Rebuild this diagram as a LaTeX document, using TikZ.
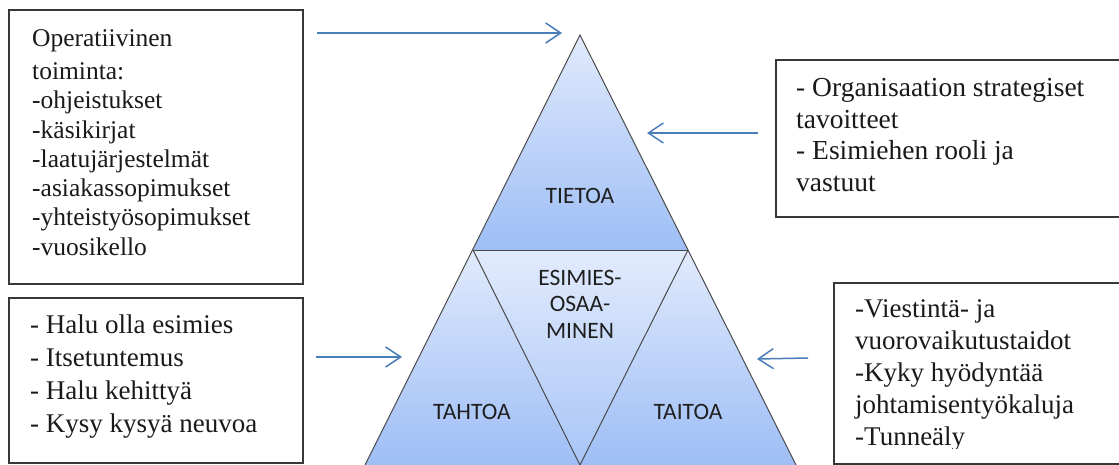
\documentclass[tikz,border=0pt]{standalone}
\usepackage{fontspec}
\setmainfont{Liberation Serif}
\newfontfamily\sansf{Carlito}
\usetikzlibrary{arrows.meta}
\definecolor{arrowblue}{HTML}{4A7EBB}
\definecolor{triLight}{HTML}{E0EAFC}
\definecolor{triDark}{HTML}{9EBEF6}
\definecolor{triEdge}{HTML}{4A4A4A}
\definecolor{boxEdge}{HTML}{383838}
\definecolor{txt}{HTML}{1A1A1A}
\tikzset{
  infobox/.style={draw=boxEdge, line width=1.8pt, fill=white, anchor=north west, inner sep=0pt},
  boxtext/.style={anchor=north west, align=left, inner sep=0pt, text=txt},
  tritext/.style={font=\sansf\fontsize{23.5}{26.5}\selectfont, align=center, inner sep=0pt, text=black!88},
  conn/.style={draw=arrowblue, line width=1.5pt, -{Straight Barb[length=15pt,width=20pt,line width=1.5pt]}},
  triline/.style={draw=triEdge, line width=1pt, line join=miter}
}
\begin{document}
\begin{tikzpicture}[x=1pt,y=-1pt]
\useasboundingbox (0,0) rectangle (1119,465);
\clip (0,0) rectangle (1119,465);
\fill[white] (0,0) rectangle (1119,465);

% triangle geometry
\coordinate (A) at (580,35);
\coordinate (L) at (473,250);
\coordinate (R) at (688,250);
\coordinate (BL) at (365,465);
\coordinate (BR) at (796,465);
\coordinate (BC) at (580,465);

\shade[top color=triLight, bottom color=triDark] (A) -- (L) -- (R) -- cycle;
\shade[top color=triLight, bottom color=triDark] (L) -- (BL) -- (BC) -- cycle;
\shade[top color=triLight, bottom color=triDark] (R) -- (BC) -- (BR) -- cycle;
\shade[top color=triLight!95!white, bottom color=triDark!85!triLight] (L) -- (R) -- (BC) -- cycle;
\draw[triline] (BL) -- (A) -- (BR);
\draw[triline] (L) -- (R);
\draw[triline] (L) -- (BC) -- (R);

\node[tritext] (tieto) at (580,196) {TIETOA};
\node[tritext] (esim) at (580,304) {ESIMIES-\\OSAA-\\MINEN};
\node[tritext] (tahto) at (472,412) {TAHTOA};
\node[tritext] (taito) at (688,412) {TAITOA};

% boxes
\node[infobox, minimum width=294pt, minimum height=274pt] (b1) at (8,9) {};
\node[infobox, minimum width=294pt, minimum height=165pt] (b2) at (8,297) {};
\node[infobox, minimum width=360pt, minimum height=157pt] (b3) at (775,59) {};

\node[boxtext, font=\fontsize{25.5}{29.3}\selectfont] (t1) at (32,29.6)
 {Operatiivinen\\[3.5pt]toiminta:\\-ohjeistukset\\-käsikirjat\\-laatujärjestelmät\\-asiakassopimukset\\-yhteistyösopimukset\\-vuosikello};
\node[boxtext, font=\fontsize{27}{33}\selectfont] (t2) at (30,314.6)
 {- Halu olla esimies\\- Itsetuntemus\\- Halu kehittyä\\- Kysy kysyä neuvoa};
\node[boxtext, font=\fontsize{27.5}{31.5}\selectfont] (t3) at (796,78.2)
 {- Organisaation strategiset\\tavoitteet\\- Esimiehen rooli ja\\vastuut};

\begin{scope}
\clip (833,282) rectangle (1130,448);
\node[boxtext, font=\fontsize{27}{32}\selectfont] (t4) at (855,299)
 {-Viestintä- ja\\vuorovaikutustaidot\\-Kyky hyödyntää\\johtamisentyökaluja\\-Tunneäly};
\end{scope}
\node[infobox, fill=none, minimum width=300pt, minimum height=181pt] (b4) at (833,282) {};

% connectors
\coordinate (a1s) at (317,33);
\coordinate (a1e) at (562,33);
\coordinate (a2s) at (758,133);
\coordinate (a2e) at (647,133);
\coordinate (a3s) at (316,357);
\coordinate (a3e) at (402,357);
\coordinate (a4s) at (808,358);
\coordinate (a4e) at (757,359);
\draw[conn] (a1s) -- (a1e);
\draw[conn] (a2s) -- (a2e);
\draw[conn] (a3s) -- (a3e);
\draw[conn] (a4s) -- (a4e);
\end{tikzpicture}
\end{document}
